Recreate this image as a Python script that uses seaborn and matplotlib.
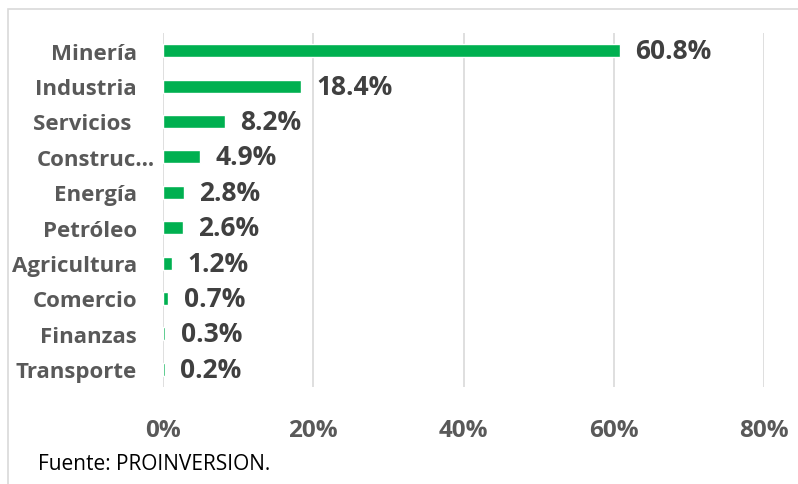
import matplotlib
matplotlib.use("Agg")
import matplotlib.pyplot as plt
import matplotlib.transforms as mtransforms
from matplotlib.patches import Rectangle
import seaborn as sns
import pandas as pd

sectores = ["Minería", "Industria", "Servicios ", "Construc…", "Energía",
            "Petróleo", "Agricultura", "Comercio", "Finanzas", "Transporte"]
participacion = [60.8, 18.4, 8.2, 4.9, 2.8, 2.6, 1.2, 0.7, 0.3, 0.2]
ticks = [0, 20, 40, 60, 80]
tick_labels = ["0%", "20%", "40%", "60%", "80%"]

df = pd.DataFrame({"sector": sectores, "valor": [v / 100 for v in participacion]})

sns.set_style("white")
plt.rcParams["font.family"] = ["Open Sans", "DejaVu Sans"]

fig = plt.figure(figsize=(7.98, 4.85), dpi=100)
ax = fig.add_axes([0.2043, 0.2, 0.9574 - 0.2043, 0.73])

sns.barplot(data=df, x="valor", y="sector", color="#00B050", width=0.37,
            saturation=1, ax=ax)

ax.set_xlim(0, 0.8)
ax.set_ylim(9.5, -0.5)
ax.set_xticks([t / 100 for t in ticks])
ax.set_xticklabels(tick_labels)
ax.xaxis.grid(True, color="#D9D9D9", linewidth=1.2)
ax.set_axisbelow(True)
for s in ax.spines.values():
    s.set_visible(False)
ax.set_xlabel("")
ax.set_ylabel("")
ax.tick_params(axis="x", length=0, pad=22, labelsize=17.5, labelcolor="#595959")
ax.tick_params(axis="y", length=0, pad=18.7, labelsize=16, labelcolor="#595959")
for lbl in ax.get_xticklabels() + ax.get_yticklabels():
    lbl.set_fontweight("bold")

# Excel-like truncated label sits further right
lab = ax.get_yticklabels()[3]
lab.set_transform(lab.get_transform() + mtransforms.ScaledTranslation(18 / 100, 0, fig.dpi_scale_trans))

for i, v in enumerate(participacion):
    ax.annotate(f"{v:.1f}%", xy=(v / 100, i), xytext=(11, 0), textcoords="offset points",
                va="center", ha="left", fontsize=19, fontweight="bold", color="#404040")

fig.text(38 / 798, 1 - 465 / 485, "Fuente: PROINVERSION.", fontsize=15,
         color="black", va="center", ha="left")

fig.patches.append(Rectangle((8 / 798, -0.05), 1.2, 1 - 10 / 485 + 0.05,
                             transform=fig.transFigure, fill=False,
                             edgecolor="#D9D9D9", linewidth=1.2))

fig.savefig("out.png", dpi=100)
